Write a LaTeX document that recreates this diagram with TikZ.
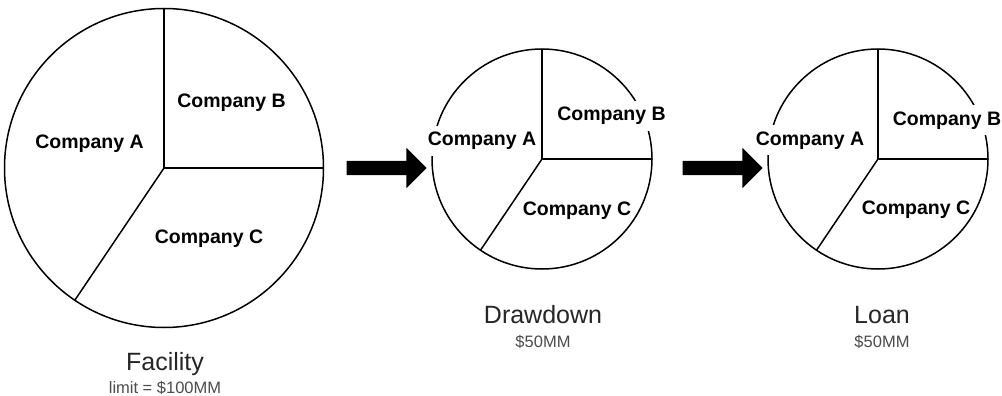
\documentclass[tikz,border=0pt]{standalone}
\usepackage{fontspec}
\setmainfont{Liberation Sans}
\usetikzlibrary{shapes.arrows}
\begin{document}
\begin{tikzpicture}[x=1pt,y=-1pt,
  pie/.style={circle, draw=black, line width=1.5pt, inner sep=0pt, outer sep=0pt},
  div/.style={draw=black, line width=1.5pt},
  lbl/.style={font=\fontsize{19.5}{22}\selectfont\bfseries, anchor=base, inner sep=0pt},
  cover/.style={fill=white, inner xsep=2pt, inner ysep=6pt},
  title/.style={font=\fontsize{25}{28}\selectfont, text=black!85, anchor=base, inner sep=0pt},
  sub/.style={font=\fontsize{16.5}{18}\selectfont, text=black!70, anchor=base, inner sep=0pt},
  bigarrow/.style={single arrow, fill=black, draw=none, minimum height=80pt, inner xsep=0pt, inner ysep=7pt, single arrow head extend=13pt, single arrow tip angle=90}
]
\useasboundingbox (0,0) rectangle (1002,396);
\fill[white] (0,0) rectangle (1002,396);

% Facility pie
\node[pie, minimum size=319pt] (f) at (164,168) {};
\draw[div] (f.north) -- (f.center) -- (f.east);
\draw[div] (f.center) -- (f.236);
\node[lbl] (fa) at (89.5,148) {Company A};
\node[lbl] (fb) at (231.5,107) {Company B};
\node[lbl] (fc) at (209,243) {Company C};
\node[title] (tf) at (165,370) {Facility};
\node[sub] (sf) at (165,393) {limit = \$100MM};

% Arrow 1
\node[bigarrow] (a1) at (383,168) {};

% Drawdown pie
\node[pie, minimum size=220pt] (d) at (542,159) {};
\draw[div] (d.north) -- (d.center) -- (d.east);
\draw[div] (d.center) -- (d.236);
\node[lbl, cover] (da) at (482,146) {Company A};
\node[lbl, cover] (db) at (611.5,121) {Company B};
\node[lbl] (dc) at (577,215) {Company C};
\node[title] (td) at (543,323) {Drawdown};
\node[sub] (sd) at (543,347) {\$50MM};

% Arrow 2
\node[bigarrow] (a2) at (719,168) {};

% Loan pie
\node[pie, minimum size=220pt] (l) at (878,159) {};
\draw[div] (l.north) -- (l.center) -- (l.east);
\draw[div] (l.center) -- (l.236);
\node[lbl, cover] (la) at (810,145) {Company A};
\node[lbl, cover] (lb) at (947,125) {Company B};
\node[lbl] (lc) at (916,214) {Company C};
\node[title] (tl) at (882,323) {Loan};
\node[sub] (sl) at (882,347) {\$50MM};
\end{tikzpicture}
\end{document}
